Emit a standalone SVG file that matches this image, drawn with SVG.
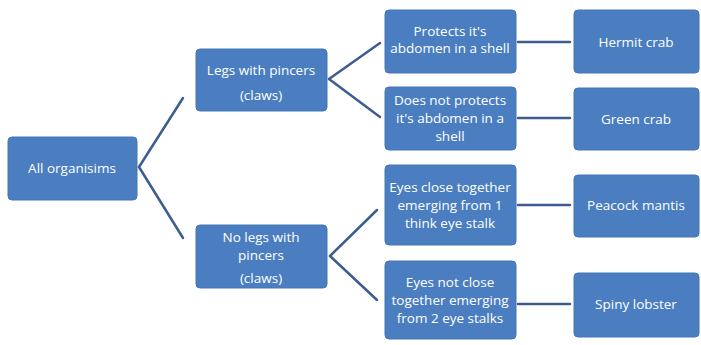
<svg xmlns="http://www.w3.org/2000/svg" width="701" height="345" viewBox="0 0 701 345">
<style>
.box{fill:#4a7ec0;stroke:#4576b4;stroke-width:1}
.t{fill:#ffffff;font-family:"Open Sans","Liberation Sans",sans-serif;font-size:13.5px;text-anchor:middle}
.c{stroke:#3d5d90;stroke-width:2.5;fill:none;stroke-linecap:round;stroke-linejoin:round}
</style>
<rect width="701" height="345" fill="#ffffff"/>
<g id="connectors">
<polyline class="c" points="183,98 139,167 183,238"/>
<polyline class="c" points="380,43 329,79 380,117"/>
<polyline class="c" points="377,210 330,256 377,300"/>
<line class="c" x1="518" y1="42" x2="570" y2="42"/>
<line class="c" x1="518" y1="118" x2="570" y2="118"/>
<line class="c" x1="518" y1="205" x2="570" y2="205"/>
<line class="c" x1="518" y1="304" x2="570" y2="304"/>
</g>
<g id="all">
<rect class="box" x="8" y="137" width="129" height="63" rx="4"/>
<text class="t" x="72" y="173">All organisims</text>
</g>
<g id="legs">
<rect class="box" x="196" y="49" width="131" height="62" rx="4"/>
<text class="t" x="261" y="75">Legs with pincers</text>
<text class="t" x="261" y="100">(claws)</text>
</g>
<g id="nolegs">
<rect class="box" x="196" y="225" width="131" height="63" rx="4"/>
<text class="t" x="261" y="242">No legs with</text>
<text class="t" x="261" y="260">pincers</text>
<text class="t" x="261" y="283">(claws)</text>
</g>
<g id="protects">
<rect class="box" x="385" y="10" width="131" height="63" rx="4"/>
<text class="t" x="450" y="36">Protects it's</text>
<text class="t" x="450" y="53">abdomen in a shell</text>
</g>
<g id="notprotects">
<rect class="box" x="385" y="87" width="131" height="63" rx="4"/>
<text class="t" x="450" y="105">Does not protects</text>
<text class="t" x="450" y="123">it's abdomen in a</text>
<text class="t" x="450" y="141">shell</text>
</g>
<g id="eyesclose">
<rect class="box" x="385" y="165" width="131" height="80" rx="4"/>
<text class="t" x="450" y="192">Eyes close together</text>
<text class="t" x="450" y="210">emerging from 1</text>
<text class="t" x="450" y="228">think eye stalk</text>
</g>
<g id="eyesnot">
<rect class="box" x="385" y="261" width="131" height="78" rx="4"/>
<text class="t" x="450" y="287">Eyes not close</text>
<text class="t" x="450" y="305">together emerging</text>
<text class="t" x="450" y="323">from 2 eye stalks</text>
</g>
<g id="hermit">
<rect class="box" x="574" y="10" width="125" height="63" rx="4"/>
<text class="t" x="636" y="47">Hermit crab</text>
</g>
<g id="green">
<rect class="box" x="574" y="88" width="125" height="62" rx="4"/>
<text class="t" x="636" y="124">Green crab</text>
</g>
<g id="peacock">
<rect class="box" x="574" y="175" width="125" height="62" rx="4"/>
<text class="t" x="636" y="210">Peacock mantis</text>
</g>
<g id="spiny">
<rect class="box" x="574" y="273" width="125" height="64" rx="4"/>
<text class="t" x="636" y="309">Spiny lobster</text>
</g>
</svg>
